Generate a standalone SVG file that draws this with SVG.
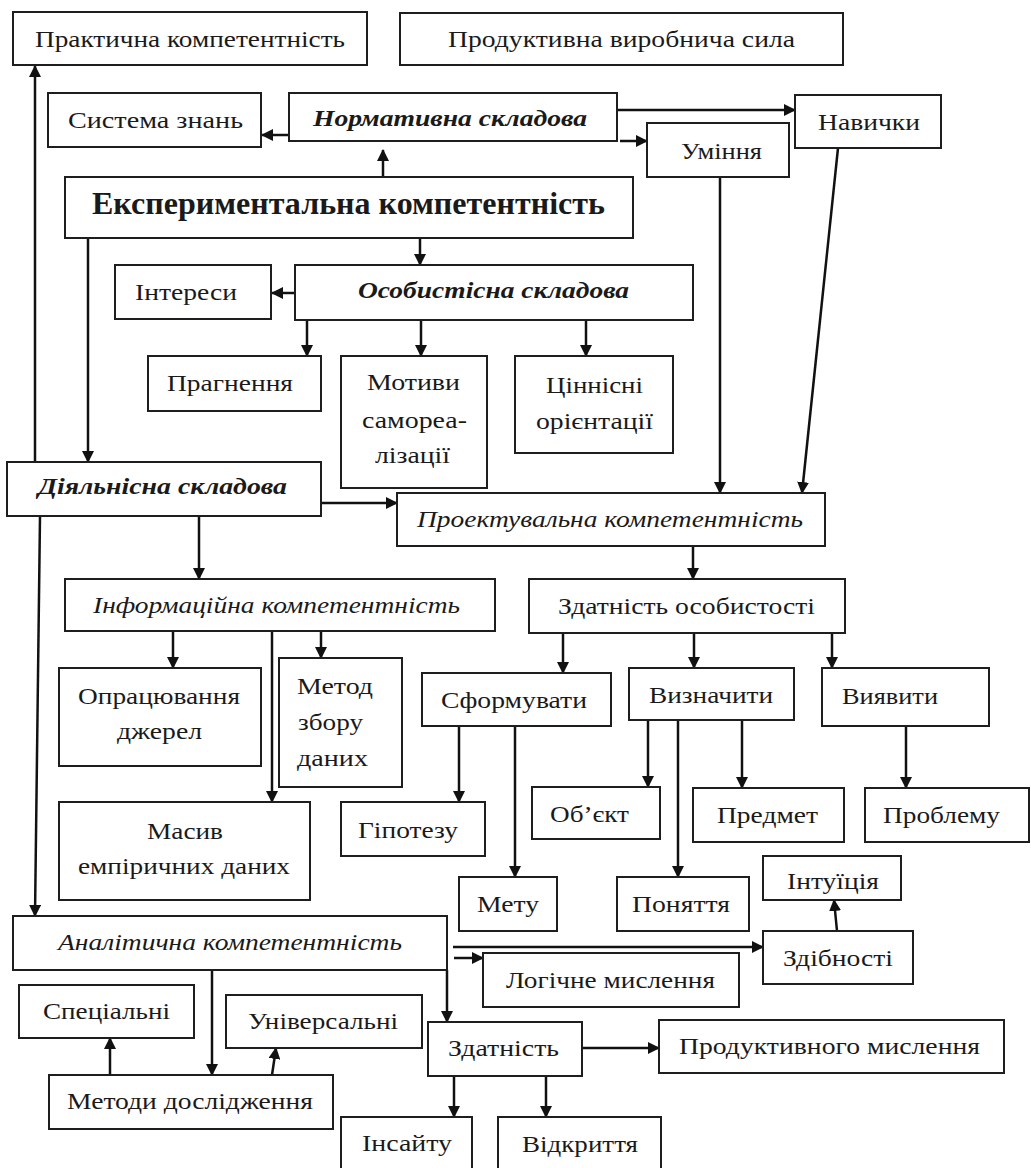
<svg xmlns="http://www.w3.org/2000/svg" width="1031" height="1168" viewBox="0 0 1031 1168" font-family="Liberation Serif, DejaVu Serif, serif">
<defs>
<style>
.b{fill:#fff;stroke:#1e1e1e;stroke-width:2}
.t{font-size:24px;fill:#1a1a1a}
.i{font-style:italic}
.bi{font-style:italic;font-weight:bold}
.big{font-size:32px;font-weight:bold}
.c{fill:none;stroke:#111;stroke-width:2.5}
</style>
<marker id="a" markerUnits="userSpaceOnUse" markerWidth="12" markerHeight="12" refX="11" refY="6" orient="auto" viewBox="0 0 12 12">
<path d="M0,0 L12,6 L0,12 z" fill="#111"/>
</marker>
</defs>
<rect width="1031" height="1168" fill="#fff"/>

<g id="connectors">
<line class="c" x1="383" y1="177" x2="383" y2="150" marker-end="url(#a)"/>
<line class="c" x1="289" y1="135" x2="262" y2="135" marker-end="url(#a)"/>
<line class="c" x1="617" y1="110" x2="795" y2="110" marker-end="url(#a)"/>
<line class="c" x1="620" y1="141" x2="647" y2="141" marker-end="url(#a)"/>
<line class="c" x1="88" y1="238" x2="88" y2="462" marker-end="url(#a)"/>
<line class="c" x1="35" y1="462" x2="35" y2="66" marker-end="url(#a)"/>
<line class="c" x1="420" y1="238" x2="420" y2="265" marker-end="url(#a)"/>
<line class="c" x1="295" y1="293" x2="272" y2="293" marker-end="url(#a)"/>
<line class="c" x1="307" y1="320" x2="307" y2="356" marker-end="url(#a)"/>
<line class="c" x1="421" y1="320" x2="421" y2="356" marker-end="url(#a)"/>
<line class="c" x1="586" y1="320" x2="586" y2="356" marker-end="url(#a)"/>
<line class="c" x1="720" y1="177" x2="720" y2="493" marker-end="url(#a)"/>
<line class="c" x1="838" y1="148" x2="802" y2="493" marker-end="url(#a)"/>
<line class="c" x1="321" y1="503" x2="397" y2="503" marker-end="url(#a)"/>
<line class="c" x1="199" y1="516" x2="199" y2="579" marker-end="url(#a)"/>
<line class="c" x1="40" y1="516" x2="35" y2="916" marker-end="url(#a)"/>
<line class="c" x1="693" y1="546" x2="693" y2="579" marker-end="url(#a)"/>
<line class="c" x1="173" y1="631" x2="173" y2="668" marker-end="url(#a)"/>
<line class="c" x1="272" y1="631" x2="272" y2="802" marker-end="url(#a)"/>
<line class="c" x1="321" y1="631" x2="321" y2="658" marker-end="url(#a)"/>
<line class="c" x1="563" y1="633" x2="563" y2="673" marker-end="url(#a)"/>
<line class="c" x1="694" y1="633" x2="694" y2="668" marker-end="url(#a)"/>
<line class="c" x1="832" y1="633" x2="832" y2="668" marker-end="url(#a)"/>
<line class="c" x1="459" y1="726" x2="459" y2="802" marker-end="url(#a)"/>
<line class="c" x1="515" y1="726" x2="515" y2="877" marker-end="url(#a)"/>
<line class="c" x1="648" y1="720" x2="648" y2="787" marker-end="url(#a)"/>
<line class="c" x1="678" y1="720" x2="678" y2="877" marker-end="url(#a)"/>
<line class="c" x1="742" y1="720" x2="742" y2="788" marker-end="url(#a)"/>
<line class="c" x1="906" y1="726" x2="906" y2="788" marker-end="url(#a)"/>
<line class="c" x1="837" y1="931" x2="834" y2="900" marker-end="url(#a)"/>
<line class="c" x1="453" y1="947" x2="763" y2="947" marker-end="url(#a)"/>
<line class="c" x1="454" y1="958" x2="483" y2="958" marker-end="url(#a)"/>
<line class="c" x1="447" y1="970" x2="447" y2="1022" marker-end="url(#a)"/>
<line class="c" x1="212" y1="970" x2="212" y2="1075" marker-end="url(#a)"/>
<line class="c" x1="110" y1="1075" x2="110" y2="1038" marker-end="url(#a)"/>
<line class="c" x1="272" y1="1075" x2="276" y2="1048" marker-end="url(#a)"/>
<line class="c" x1="582" y1="1048" x2="659" y2="1048" marker-end="url(#a)"/>
<line class="c" x1="454" y1="1076" x2="454" y2="1117" marker-end="url(#a)"/>
<line class="c" x1="546" y1="1076" x2="546" y2="1117" marker-end="url(#a)"/>
</g>

<g id="n-praktychna"><rect class="b" x="13" y="12" width="354" height="53"/><text class="t" x="35" y="47" textLength="310" lengthAdjust="spacingAndGlyphs">Практична компетентність</text></g>
<g id="n-produktyvna"><rect class="b" x="400" y="13" width="443" height="52"/><text class="t" x="448" y="47" textLength="347" lengthAdjust="spacingAndGlyphs">Продуктивна виробнича сила</text></g>
<g id="n-systema"><rect class="b" x="48" y="93" width="213" height="54"/><text class="t" x="68" y="128" textLength="175" lengthAdjust="spacingAndGlyphs">Система знань</text></g>
<g id="n-normatyvna"><rect class="b" x="289" y="93" width="328" height="48"/><text class="t bi" x="313" y="126" textLength="274" lengthAdjust="spacingAndGlyphs">Нормативна складова</text></g>
<g id="n-navychky"><rect class="b" x="795" y="95" width="146" height="53"/><text class="t" x="818" y="130" textLength="102" lengthAdjust="spacingAndGlyphs">Навички</text></g>
<g id="n-uminnia"><rect class="b" x="647" y="123" width="142" height="54"/><text class="t" x="681" y="159" textLength="81" lengthAdjust="spacingAndGlyphs">Уміння</text></g>
<g id="n-eksperymentalna"><rect class="b" x="65" y="177" width="568" height="61"/><text class="t big" x="92" y="214" textLength="513" lengthAdjust="spacingAndGlyphs">Експериментальна компетентність</text></g>
<g id="n-interesy"><rect class="b" x="115" y="265" width="156" height="54"/><text class="t" x="135" y="300" textLength="102" lengthAdjust="spacingAndGlyphs">Інтереси</text></g>
<g id="n-osobystisna"><rect class="b" x="295" y="265" width="398" height="55"/><text class="t bi" x="358" y="298" textLength="271" lengthAdjust="spacingAndGlyphs">Особистісна складова</text></g>
<g id="n-prahnennia"><rect class="b" x="148" y="356" width="173" height="55"/><text class="t" x="167" y="391" textLength="126" lengthAdjust="spacingAndGlyphs">Прагнення</text></g>
<g id="n-motyvy"><rect class="b" x="341" y="356" width="146" height="132"/><text class="t" x="367" y="390" textLength="93" lengthAdjust="spacingAndGlyphs">Мотиви</text><text class="t" x="362" y="428" textLength="105" lengthAdjust="spacingAndGlyphs">самореа-</text><text class="t" x="375" y="463" textLength="75" lengthAdjust="spacingAndGlyphs">лізації</text></g>
<g id="n-tsinnisni"><rect class="b" x="515" y="356" width="158" height="97"/><text class="t" x="546" y="393" textLength="97" lengthAdjust="spacingAndGlyphs">Ціннісні</text><text class="t" x="536" y="429" textLength="117" lengthAdjust="spacingAndGlyphs">орієнтації</text></g>
<g id="n-diialnisna"><rect class="b" x="7" y="462" width="314" height="54"/><text class="t bi" x="38" y="494" textLength="249" lengthAdjust="spacingAndGlyphs">Діяльнісна складова</text></g>
<g id="n-proektuvalna"><rect class="b" x="397" y="493" width="428" height="53"/><text class="t i" x="417" y="527" textLength="386" lengthAdjust="spacingAndGlyphs">Проектувальна компетентність</text></g>
<g id="n-informatsiina"><rect class="b" x="65" y="579" width="430" height="52"/><text class="t i" x="93" y="613" textLength="367" lengthAdjust="spacingAndGlyphs">Інформаційна компетентність</text></g>
<g id="n-zdatnist-osob"><rect class="b" x="529" y="579" width="316" height="54"/><text class="t" x="558" y="614" textLength="257" lengthAdjust="spacingAndGlyphs">Здатність особистості</text></g>
<g id="n-opratsiuvannia"><rect class="b" x="59" y="668" width="202" height="98"/><text class="t" x="78" y="704" textLength="162" lengthAdjust="spacingAndGlyphs">Опрацювання</text><text class="t" x="117" y="739" textLength="85" lengthAdjust="spacingAndGlyphs">джерел</text></g>
<g id="n-metod"><rect class="b" x="279" y="658" width="123" height="129"/><text class="t" x="297" y="694" textLength="76" lengthAdjust="spacingAndGlyphs">Метод</text><text class="t" x="298" y="730" textLength="65" lengthAdjust="spacingAndGlyphs">збору</text><text class="t" x="297" y="766" textLength="71" lengthAdjust="spacingAndGlyphs">даних</text></g>
<g id="n-masyv"><rect class="b" x="59" y="802" width="251" height="98"/><text class="t" x="147" y="839" textLength="76" lengthAdjust="spacingAndGlyphs">Масив</text><text class="t" x="78" y="874" textLength="212" lengthAdjust="spacingAndGlyphs">емпіричних даних</text></g>
<g id="n-sformuvaty"><rect class="b" x="422" y="673" width="189" height="53"/><text class="t" x="441" y="708" textLength="146" lengthAdjust="spacingAndGlyphs">Сформувати</text></g>
<g id="n-vyznachyty"><rect class="b" x="629" y="668" width="165" height="52"/><text class="t" x="649" y="703" textLength="124" lengthAdjust="spacingAndGlyphs">Визначити</text></g>
<g id="n-vyiavyty"><rect class="b" x="822" y="668" width="167" height="58"/><text class="t" x="842" y="704" textLength="96" lengthAdjust="spacingAndGlyphs">Виявити</text></g>
<g id="n-hipotezu"><rect class="b" x="341" y="802" width="144" height="54"/><text class="t" x="358" y="838" textLength="100" lengthAdjust="spacingAndGlyphs">Гіпотезу</text></g>
<g id="n-obiekt"><rect class="b" x="532" y="787" width="128" height="52"/><text class="t" x="550" y="822" textLength="79" lengthAdjust="spacingAndGlyphs">Об’єкт</text></g>
<g id="n-predmet"><rect class="b" x="693" y="788" width="151" height="54"/><text class="t" x="717" y="823" textLength="101" lengthAdjust="spacingAndGlyphs">Предмет</text></g>
<g id="n-problemu"><rect class="b" x="865" y="788" width="164" height="54"/><text class="t" x="883" y="823" textLength="117" lengthAdjust="spacingAndGlyphs">Проблему</text></g>
<g id="n-metu"><rect class="b" x="459" y="877" width="98" height="54"/><text class="t" x="477" y="912" textLength="62" lengthAdjust="spacingAndGlyphs">Мету</text></g>
<g id="n-poniattia"><rect class="b" x="617" y="877" width="132" height="54"/><text class="t" x="632" y="912" textLength="98" lengthAdjust="spacingAndGlyphs">Поняття</text></g>
<g id="n-intuitsiia"><rect class="b" x="763" y="856" width="138" height="44"/><text class="t" x="787" y="889" textLength="92" lengthAdjust="spacingAndGlyphs">Інтуїція</text></g>
<g id="n-zdibnosti"><rect class="b" x="763" y="931" width="150" height="53"/><text class="t" x="783" y="966" textLength="110" lengthAdjust="spacingAndGlyphs">Здібності</text></g>
<g id="n-analitychna"><rect class="b" x="13" y="916" width="434" height="54"/><text class="t i" x="58" y="950" textLength="344" lengthAdjust="spacingAndGlyphs">Аналітична компетентність</text></g>
<g id="n-lohichne"><rect class="b" x="483" y="953" width="256" height="54"/><text class="t" x="506" y="988" textLength="209" lengthAdjust="spacingAndGlyphs">Логічне мислення</text></g>
<g id="n-spetsialni"><rect class="b" x="19" y="985" width="175" height="53"/><text class="t" x="43" y="1019" textLength="127" lengthAdjust="spacingAndGlyphs">Спеціальні</text></g>
<g id="n-universalni"><rect class="b" x="226" y="995" width="196" height="53"/><text class="t" x="248" y="1029" textLength="150" lengthAdjust="spacingAndGlyphs">Універсальні</text></g>
<g id="n-metody"><rect class="b" x="49" y="1075" width="284" height="54"/><text class="t" x="67" y="1109" textLength="246" lengthAdjust="spacingAndGlyphs">Методи дослідження</text></g>
<g id="n-zdatnist"><rect class="b" x="428" y="1022" width="154" height="54"/><text class="t" x="448" y="1056" textLength="111" lengthAdjust="spacingAndGlyphs">Здатність</text></g>
<g id="n-produktyvnoho"><rect class="b" x="659" y="1020" width="345" height="53"/><text class="t" x="679" y="1054" textLength="301" lengthAdjust="spacingAndGlyphs">Продуктивного мислення</text></g>
<g id="n-insaitu"><rect class="b" x="341" y="1117" width="131" height="60"/><text class="t" x="362" y="1151" textLength="90" lengthAdjust="spacingAndGlyphs">Інсайту</text></g>
<g id="n-vidkryttia"><rect class="b" x="498" y="1117" width="163" height="60"/><text class="t" x="522" y="1152" textLength="116" lengthAdjust="spacingAndGlyphs">Відкриття</text></g>
</svg>
